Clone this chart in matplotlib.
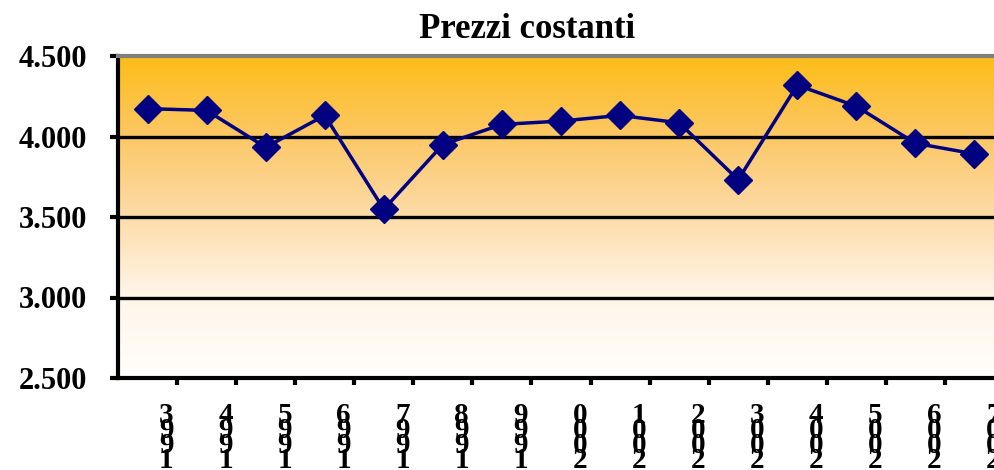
import numpy as np
import matplotlib
matplotlib.use("Agg")
import matplotlib.pyplot as plt
from matplotlib.colors import LinearSegmentedColormap
from matplotlib.ticker import FuncFormatter

# dati
anni = [1993, 1994, 1995, 1996, 1997, 1998, 1999, 2000,
        2001, 2002, 2003, 2004, 2005, 2006, 2007]
prezzi = [4173, 4162, 3933, 4131, 3548, 3950, 4075, 4096,
          4131, 4085, 3731, 4319, 4188, 3958, 3892]
yticks = [2500, 3000, 3500, 4000, 4500]

plt.rcParams["font.family"] = ["Liberation Serif", "DejaVu Serif"]
plt.rcParams["font.weight"] = "bold"

fig = plt.figure(figsize=(9.94, 4.70), dpi=100)
ax = fig.add_axes([118 / 994, 1 - 378 / 470, 886 / 994, 322 / 470])

n = len(anni)
x = np.arange(n)
ax.set_xlim(-0.5, n - 0.5)
ax.set_ylim(yticks[0], yticks[-1])

# sfondo sfumato arancio -> bianco
cmap = LinearSegmentedColormap.from_list(
    "sfondo",
    [(0.0, "#fffdfb"), (0.25, "#fff6ea"), (0.5, "#fddcaa"),
     (0.75, "#fcc866"), (1.0, "#fdbd18")])
grad = np.linspace(0, 1, 256).reshape(-1, 1)
ax.imshow(grad, cmap=cmap, aspect="auto", origin="lower",
          extent=(-0.5, n - 0.5, yticks[0], yticks[-1]), zorder=0)

for v in yticks[1:-1]:
    ax.axhline(v, color="black", lw=2.4, zorder=1)

ax.plot(x, prezzi, color="#000080", lw=2.5, marker="D",
        markersize=14, zorder=3)

ax.spines["left"].set_linewidth(3)
ax.spines["bottom"].set_linewidth(3)
ax.spines["top"].set_color("#808080")
ax.spines["top"].set_linewidth(3)
ax.spines["right"].set_visible(False)

ax.set_yticks(yticks)
ax.yaxis.set_major_formatter(FuncFormatter(lambda v, p: f"{int(v):,}".replace(",", ".")))
ax.tick_params(axis="y", length=6, width=3, pad=16, labelsize=22)

ax.set_xticks(np.arange(n) + 0.5)
ax.set_xticklabels([])
ax.tick_params(axis="x", length=5, width=3)

# etichette anni scritte in verticale (cifre in ordine inverso, come nell'originale)
for i, a in enumerate(anni):
    ax.text(i + 0.32, -0.075, "\n".join(reversed(str(a))),
            transform=ax.get_xaxis_transform(), ha="center", va="top",
            fontsize=21, fontweight="bold", linespacing=0.43, clip_on=False)

fig.text(527 / 994, 1 - 29 / 470, "Prezzi costanti", ha="center", va="center",
         fontsize=25, fontweight="bold")

fig.savefig("out.png", dpi=100)
